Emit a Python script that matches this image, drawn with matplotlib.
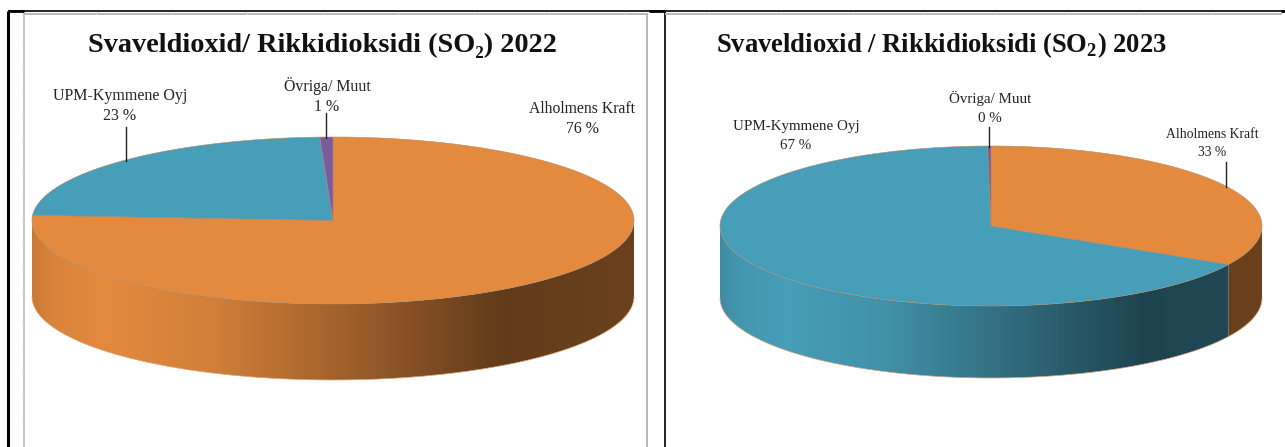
import matplotlib
matplotlib.use('Agg')
import matplotlib.pyplot as plt
import numpy as np
from matplotlib.patches import PathPatch, Polygon
from matplotlib.path import Path
from matplotlib.colors import to_rgb

plt.rcParams['font.family'] = ['Liberation Serif', 'DejaVu Serif']
plt.rcParams['mathtext.fontset'] = 'custom'
plt.rcParams['mathtext.rm'] = 'Liberation Serif:bold'

# Datos
names = ['Alholmens Kraft', 'UPM-Kymmene Oyj', 'Övriga/ Muut']
values_2022 = [76, 23.3, 0.7]
values_2023 = [33, 66.8, 0.2]
colors = ['#E48A3E', '#479EB8', '#7B5B9E']
edge_color = '#B08B68'

# brillo de la pared lateral segun la posicion horizontal
shade_pos = [0, 0.03, 0.12, 0.30, 0.50, 0.78, 1]
shade_val = [0.88, 0.95, 1.0, 0.92, 0.72, 0.43, 0.47]

fig = plt.figure(figsize=(12.85, 4.47), dpi=100)
ax = fig.add_axes([0, 0, 1, 1])


def rim(angle, cx, cy, rx, ry):
    # angulo en grados, horario desde las 12
    a = np.radians(angle)
    return cx + rx * np.sin(a), cy - ry * np.cos(a)


def draw_pie(values, cx, cy, rx, ry, depth):
    total = sum(values)
    edges = np.concatenate([[0], np.cumsum(values) / total * 360])
    # paredes
    for i in range(len(values)):
        start = max(edges[i], 90)
        end = min(edges[i + 1], 270)
        if end <= start:
            continue
        ang = np.linspace(start, end, 200)
        x, y = rim(ang, cx, cy, rx, ry)
        verts = np.vstack([np.c_[x, y], np.c_[x, y + depth][::-1]])
        t = np.linspace(0, 1, 600)
        shade = np.interp(t, shade_pos, shade_val)
        img = np.outer(shade, to_rgb(colors[i])).reshape(1, 600, 3)
        im = ax.imshow(img, extent=[cx - rx, cx + rx, cy + ry + depth, cy - ry],
                       aspect='auto', interpolation='bilinear', zorder=2)
        clip = Polygon(verts, closed=True, transform=ax.transData, fc='none', ec='none')
        ax.add_patch(clip)
        im.set_clip_path(clip)
        ax.plot(x, y + depth, color='#D9A67C', lw=0.5, zorder=3)
    # tapa
    for i in range(len(values)):
        ang = np.linspace(edges[i], edges[i + 1], 300)
        x, y = rim(ang, cx, cy, rx, ry)
        verts = np.vstack([[cx, cy], np.c_[x, y], [cx, cy]])
        path = Path(verts, closed=False)
        ax.add_patch(PathPatch(path, fc=colors[i], ec=edge_color, lw=0.4, zorder=4))


def label(name, value, x, y, size, spacing):
    ax.text(x, y, f'{name}\n{round(value)} %', ha='center', va='center',
            fontsize=size, color='#222222', linespacing=spacing, zorder=6)


def leader(x, y0, y1):
    ax.plot([x, x], [y0, y1], color='#222222', lw=1.0, zorder=5)


# Marcos de la captura
black = 'black'
gray = '#B8B8B8'
ax.plot([8, 8], [447, 11], color=black, lw=2.2, solid_capstyle='butt')
ax.plot([8, 1285], [11, 11], color=black, lw=1.2, solid_capstyle='butt')
ax.plot([8, 24], [11, 11], color=black, lw=2.0, solid_capstyle='butt')
ax.plot([649, 665], [11, 11], color=black, lw=2.0, solid_capstyle='butt')
ax.plot([1281, 1285], [11, 11], color=black, lw=2.0, solid_capstyle='butt')
ax.plot([664.5, 664.5], [11, 447], color=black, lw=1.2, solid_capstyle='butt')
ax.plot([23.5, 23.5], [14, 447], color=gray, lw=1.1, solid_capstyle='butt')
ax.plot([647, 647], [14, 447], color=gray, lw=1.4, solid_capstyle='butt')
ax.plot([23, 648], [14.3, 14.3], color=gray, lw=1.4, solid_capstyle='butt')
ax.plot([665, 1282], [14.3, 14.3], color=gray, lw=1.4, solid_capstyle='butt')
for xt in np.arange(96, 640, 75.5):
    ax.plot([xt, xt], [11.5, 14], color='#D8D8D8', lw=0.8)
for xt in np.arange(709, 1270, 71.8):
    ax.plot([xt, xt], [11.5, 14], color='#D8D8D8', lw=0.8)
for yt in np.arange(42, 447, 25.3):
    ax.plot([21.5, 23], [yt, yt], color='#D8D8D8', lw=0.8)

# Grafica 2022
draw_pie(values_2022, 333, 220.5, 301, 83.5, 76)
ax.text(322, 45, 'Svaveldioxid/ Rikkidioksidi (SO₂) 2022', ha='center', va='center',
        fontsize=20.3, fontweight='bold', color='#111111')
label(names[1], values_2022[1], 120, 106, 11.5, 1.36)
label(names[2], values_2022[2], 327, 96, 11.4, 1.36)
label(names[0], values_2022[0], 582, 119, 11.3, 1.36)
leader(126, 127, 161)
leader(326, 113, 138)

# Grafica 2023
draw_pie(values_2023, 991, 226, 271, 80, 72)
ax.text(941, 45, 'Svaveldioxid / Rikkidioksidi (SO$_{2}$) 2023', ha='center', va='center',
        fontsize=19.2, fontweight='bold', color='#111111')
label(names[1], values_2023[1], 796, 136, 10.8, 1.58)
label(names[2], values_2023[2], 990, 108, 10.8, 1.58)
label(names[0], values_2023[0], 1212, 143, 9.8, 1.5)
leader(989, 127, 147)
leader(1226, 162, 187)

ax.set_xlim(0, 1285)
ax.set_ylim(447, 0)
ax.axis('off')
fig.savefig('out.png', dpi=100, facecolor='white')
